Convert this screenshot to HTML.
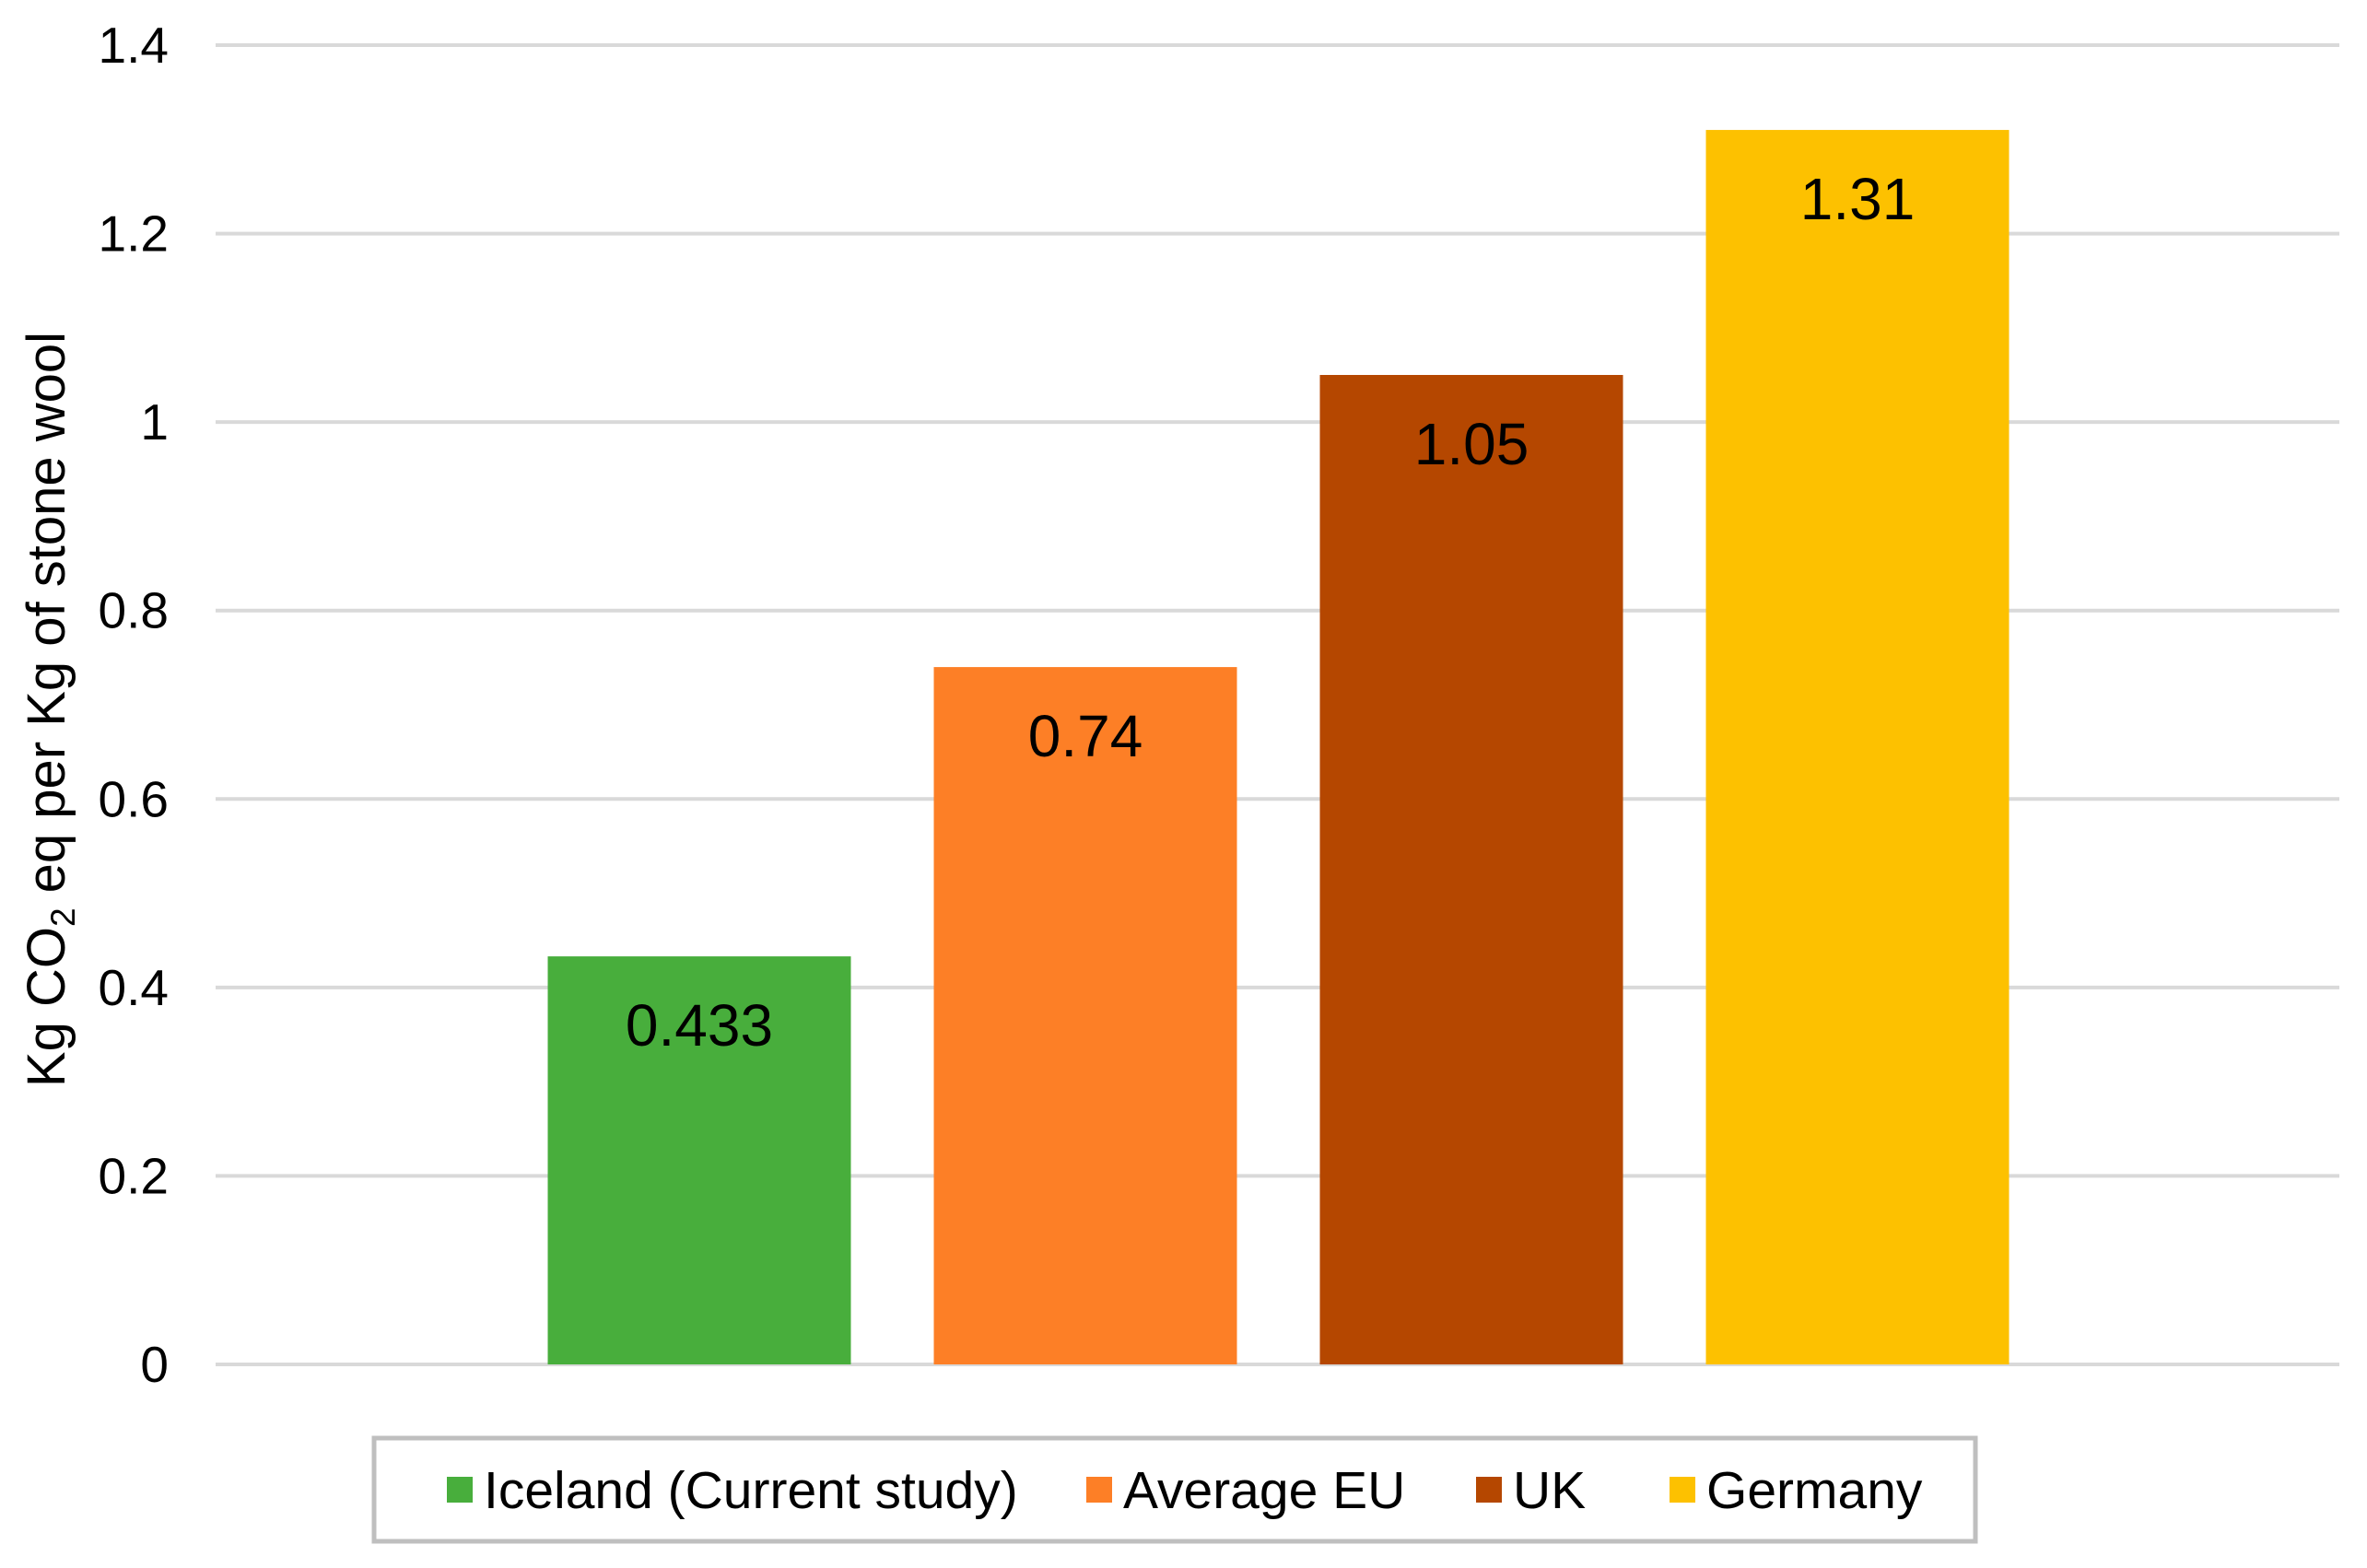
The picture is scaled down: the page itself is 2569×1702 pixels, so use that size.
<!DOCTYPE html>
<html><head><meta charset="utf-8"><style>
html,body{margin:0;padding:0;background:#fff;}
svg{display:block;font-family:"Liberation Sans",Arial,sans-serif;}
</style></head><body>
<svg id="chart" width="2569" height="1702" viewBox="0 0 2569 1702">
<g id="grid"></g>
<g id="yticks"></g>
<g id="bars"></g>
<text transform="translate(70,770) rotate(-90)" text-anchor="middle" font-size="58" fill="#000">Kg CO<tspan font-size="37" dy="11">2</tspan><tspan dy="-11"> eq per Kg of stone wool</tspan></text>
<g>
<rect x="406" y="1561" width="1738" height="112" fill="#fff" stroke="#bfbfbf" stroke-width="5"/>
<g id="legend-items"></g>
</g>
</svg>
<script>
const categories = ["Iceland (Current study)", "Average EU", "UK", "Germany"];
const values = [0.433, 0.74, 1.05, 1.31];
const valueLabels = ["0.433", "0.74", "1.05", "1.31"];
const colors = ["#48ae3c", "#fd7f26", "#b54700", "#fdc100"];
const tickValues = [0, 0.2, 0.4, 0.6, 0.8, 1, 1.2, 1.4];
const tickLabels = ["0", "0.2", "0.4", "0.6", "0.8", "1", "1.2", "1.4"];

const NS = "http://www.w3.org/2000/svg";
const y0 = 1481, yTop = 49, vMax = 1.4;
function yScale(v){ return y0 - (v / vMax) * (y0 - yTop); }
function xCenter(i){ return 759 + 419 * i; }
const barW = 329;
function mk(tag, attrs, parent){ const e = document.createElementNS(NS, tag); for (const k in attrs) e.setAttribute(k, attrs[k]); parent.appendChild(e); return e; }

const grid = document.getElementById('grid'), yt = document.getElementById('yticks');
tickValues.forEach((t, i) => {
  const l = mk('line', {x1:234, x2:2539, y1:yScale(t), y2:yScale(t), stroke:'#d9d9d9', 'stroke-width':4}, grid);
  
  
  const tx = mk('text', {x:183, y:yScale(t)+19, 'text-anchor':'end', 'font-size':55, fill:'#000'}, yt);
  tx.textContent = tickLabels[i];
  
  
});

const bars = document.getElementById('bars');
values.forEach((v, i) => {
  const top = yScale(v);
  const r = mk('rect', {x:xCenter(i)-barW/2, y:top, width:barW, height:y0-top, fill:colors[i]}, bars);
  
  
  const t = mk('text', {x:xCenter(i), y:top+97, 'text-anchor':'middle', 'font-size':64, fill:'#000'}, bars);
  t.textContent = valueLabels[i];
  
  
});

const legendX = [485, 1179, 1602, 1812];
const li = document.getElementById('legend-items');
categories.forEach((c, i) => {
  const s = mk('rect', {x:legendX[i], y:1603, width:28, height:28, fill:colors[i]}, li);
  
  
  const t = mk('text', {x:legendX[i]+40, y:1637, 'font-size':57, fill:'#000'}, li);
  t.textContent = c;
  
  
});
</script>
</body></html>
